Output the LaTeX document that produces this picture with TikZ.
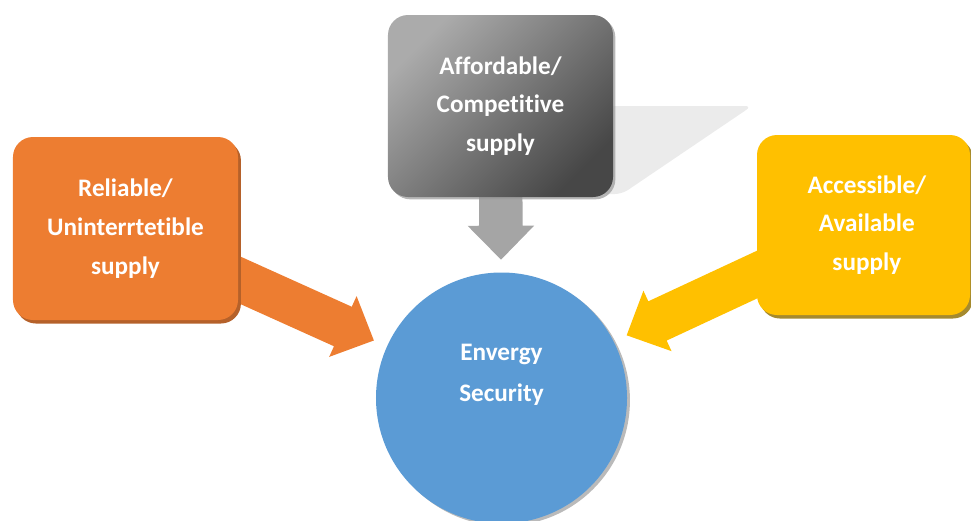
\documentclass[tikz,border=0pt]{standalone}
\usepackage{fontspec}
\setmainfont{Carlito}[Ligatures=NoCommon]
\usetikzlibrary{calc,shadows,backgrounds}

\definecolor{relorange}{HTML}{ED7D31}
\definecolor{reldark}{HTML}{B5612A}
\definecolor{accyellow}{HTML}{FFC000}
\definecolor{accdark}{HTML}{A58A2E}
\definecolor{affgrey}{HTML}{A5A5A5}
\definecolor{seablue}{HTML}{5B9BD5}

% block arrow from #1 to the tip #2, colour #3
\newcommand{\blockarrow}[3]{%
  \coordinate (#2-b) at ($(#2)!1.02cm!(#1)$);
  \fill[#3] ($(#1)!0.65cm!90:(#2)$) -- ($(#2-b)!0.65cm!-90:(#1)$)
    -- ($(#2-b)!1cm!-90:(#1)$) -- (#2) -- ($(#2-b)!1cm!90:(#1)$)
    -- ($(#2-b)!0.65cm!90:(#1)$) -- ($(#1)!0.65cm!-90:(#2)$) -- cycle;
}

\begin{document}
\begin{tikzpicture}[x=0.03cm, y=-0.03cm,
    box/.style={rounded corners=0.6cm, minimum width=6.75cm, minimum height=5.49cm,
      align=center, text=white, inner sep=0pt,
      font=\bfseries\fontsize{21.5}{33}\selectfont}]
    \clip (0,0) rectangle (971,520);

    % Energy security in the middle
    \node[circle, fill=seablue, minimum size=7.53cm, inner sep=0pt,
      drop shadow={shadow xshift=2.5pt, shadow yshift=-2pt, fill=black!45, opacity=0.6}]
      (security) at (501.5,398) {};
    \node[text=white, align=center, font=\bfseries\fontsize{21.5}{35}\selectfont]
      (sectext) at ([yshift=0.7cm]security.center) {Envergy\\Security};

    % Reliable supply (left)
    \node[box, fill=relorange,
      drop shadow={shadow xshift=2.5pt, shadow yshift=-3pt, fill=reldark, opacity=1}]
      (reliable) at (125.5,228.5) {Reliable/\\Uninterrtetible\\supply};

    % Affordable supply (top)
    \node[box, minimum height=5.46cm, top color=black!33, bottom color=black!72, shading angle=45,
      drop shadow={shadow xshift=2pt, shadow yshift=-2pt, fill=black!40, opacity=0.7}]
      (affordable) at (500.5,106) {Affordable/\\Competitive\\supply};

    % Accessible supply (right)
    \node[box, fill=accyellow, minimum width=6.39cm, minimum height=5.4cm,
      drop shadow={shadow xshift=2.5pt, shadow yshift=-3pt, fill=accdark, opacity=1}]
      (accessible) at (863.5,225) {\hspace*{0.2cm}Accessible/\\\hspace*{0.2cm}Available\\\hspace*{0.2cm}supply};

    % Arrow tips, all at the same distance from the circle
    \coordinate (tipL) at ($(security.center)!4.2cm!(reliable.center)$);
    \coordinate (tipT) at ($(security.center)!4.15cm!(affordable.center)$);
    \coordinate (tipR) at ($(security.center)!4.2cm!([yshift=0.25cm]accessible.center)$);

    \begin{pgfonlayer}{background}
      % faint shadow behind the top box
      \fill[black!8, rounded corners=6pt] (600,106) -- (752,106) -- (622,194) -- (600,194) -- cycle;
      % block arrows
      \blockarrow{reliable.center}{tipL}{relorange}
      \blockarrow{affordable.center}{tipT}{affgrey}
      \blockarrow{accessible.center}{tipR}{accyellow}
    \end{pgfonlayer}
\end{tikzpicture}
\end{document}
